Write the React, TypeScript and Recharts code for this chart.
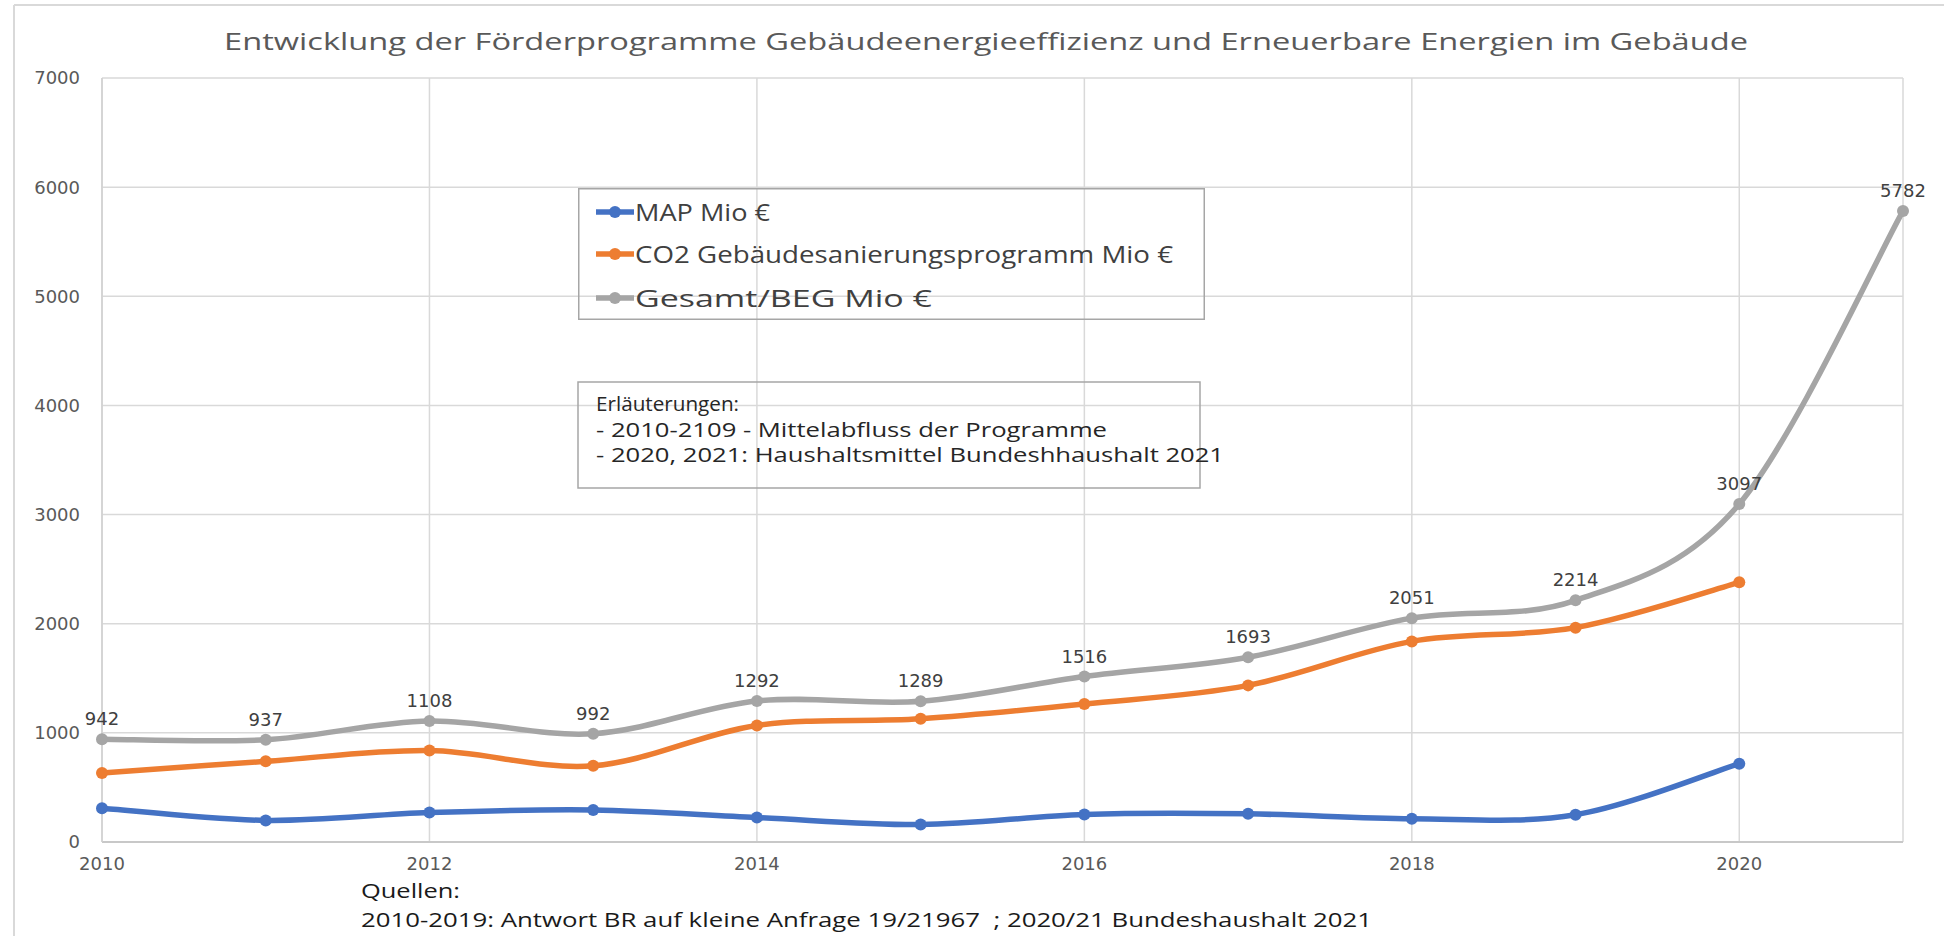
import { LineChart, Line, XAxis, YAxis, CartesianGrid, Legend, LabelList } from "recharts";

/* ------------------------------------------------------------------ */
/*  Data                                                               */
/* ------------------------------------------------------------------ */

const years = [2010, 2011, 2012, 2013, 2014, 2015, 2016, 2017, 2018, 2019, 2020, 2021];
const mapValues = [310, 198, 270, 294, 224, 160, 252, 258, 213, 250, 718, null];
const co2Values = [632, 739, 838, 698, 1068, 1129, 1264, 1435, 1838, 1964, 2379, null];
const totalValues = [942, 937, 1108, 992, 1292, 1289, 1516, 1693, 2051, 2214, 3097, 5782];

const xTicks = [2010, 2012, 2014, 2016, 2018, 2020];
const yTicks = [0, 1000, 2000, 3000, 4000, 5000, 6000, 7000];

const seriesNames = {
  map: "MAP Mio €",
  co2: "CO2 Gebäudesanierungsprogramm Mio €",
  total: "Gesamt/BEG Mio €",
};

const titleText =
  "Entwicklung der Förderprogramme Gebäudeenergieeffizienz und Erneuerbare Energien im Gebäude";
const noteLines = [
  "Erläuterungen:",
  "- 2010-2109 - Mittelabfluss der Programme",
  "- 2020, 2021: Haushaltsmittel Bundeshhaushalt 2021",
];
const sourceLines = [
  "Quellen:",
  "2010-2019: Antwort BR auf kleine Anfrage 19/21967  ; 2020/21 Bundeshaushalt 2021",
];

const COLORS = { map: "#4472C4", co2: "#ED7D31", total: "#A5A5A5" };
const TEXT_FONT = "'Open Sans', sans-serif";
const TICK_FONT = "'DejaVu Sans', sans-serif";

/* ------------------------------------------------------------------ */
/*  Excel-like smoothing (Catmull-Rom as cubic bezier)                 */
/* ------------------------------------------------------------------ */

function excelSmooth(context: any) {
  let pts: [number, number][] = [];
  return {
    areaStart() {},
    areaEnd() {},
    lineStart() {
      pts = [];
    },
    point(x: number, y: number) {
      pts.push([+x, +y]);
    },
    lineEnd() {
      const n = pts.length;
      if (n === 0) return;
      context.moveTo(pts[0][0], pts[0][1]);
      for (let i = 0; i < n - 1; i++) {
        const p0 = pts[i - 1] ?? pts[i];
        const p1 = pts[i];
        const p2 = pts[i + 1];
        const p3 = pts[i + 2] ?? pts[i + 1];
        context.bezierCurveTo(
          p1[0] + (p2[0] - p0[0]) / 6,
          p1[1] + (p2[1] - p0[1]) / 6,
          p2[0] - (p3[0] - p1[0]) / 6,
          p2[1] - (p3[1] - p1[1]) / 6,
          p2[0],
          p2[1]
        );
      }
    },
  };
}

/* ------------------------------------------------------------------ */
/*  Legend box                                                         */
/* ------------------------------------------------------------------ */

const legendItems = [
  { name: seriesNames.map, color: COLORS.map, y: 24, width: 135 },
  { name: seriesNames.co2, color: COLORS.co2, y: 66, width: 538 },
  { name: seriesNames.total, color: COLORS.total, y: 110, width: 297 },
];

function LegendBox() {
  return (
    <svg width={627} height={132} style={{ display: "block" }}>
      <rect x={0.75} y={0.75} width={625.5} height={130.5} fill="none" stroke="#a6a6a6" strokeWidth={1.5} />
      {legendItems.map((item) => (
        <g key={item.name}>
          <line x1={18} x2={56} y1={item.y} y2={item.y} stroke={item.color} strokeWidth={5.5} />
          <circle cx={37} cy={item.y} r={6} fill={item.color} />
          <text
            x={57}
            y={item.y}
            dominantBaseline="central"
            fontFamily={TEXT_FONT}
            fontSize={23}
            fill="#404040"
            textLength={item.width}
            lengthAdjust="spacingAndGlyphs"
          >
            {item.name}
          </text>
        </g>
      ))}
    </svg>
  );
}

/* ------------------------------------------------------------------ */
/*  App                                                                */
/* ------------------------------------------------------------------ */

export default function App() {
  const data = years.map((year, i) => ({
    year,
    map: mapValues[i],
    co2: co2Values[i],
    total: totalValues[i],
  }));

  const noteWidths = [143, 511, 628];
  const noteY = [21, 47, 72];

  return (
    <div style={{ position: "relative", width: 1944, height: 936, background: "#fff", overflow: "hidden" }}>
      <style>{"body{margin:0}"}</style>

      <LineChart width={1944} height={936} data={data} margin={{ top: 78, right: 41, bottom: 64, left: 30 }}>
        <CartesianGrid stroke="#d9d9d9" strokeWidth={1.5} />
        <XAxis
          dataKey="year"
          type="number"
          domain={[2010, 2021]}
          ticks={xTicks}
          height={30}
          axisLine={{ stroke: "#c8c8c8", strokeWidth: 2 }}
          tickLine={false}
          tickSize={0}
          tickMargin={15}
          tick={{ fill: "#595959", fontSize: 18, fontFamily: TICK_FONT }}
        />
        <YAxis
          type="number"
          domain={[0, 7000]}
          ticks={yTicks}
          width={72}
          axisLine={{ stroke: "#d0d0d0", strokeWidth: 1.5 }}
          tickLine={false}
          tickSize={0}
          tickMargin={22}
          tick={{ fill: "#595959", fontSize: 18, fontFamily: TICK_FONT }}
        />
        <Legend
          layout="vertical"
          align="center"
          verticalAlign="middle"
          content={() => <LegendBox />}
          wrapperStyle={{ left: 578, top: 188, width: 627, height: 132 }}
        />
        <Line
          dataKey="map"
          name={seriesNames.map}
          type={excelSmooth as any}
          stroke={COLORS.map}
          strokeWidth={5.5}
          dot={{ r: 6, fill: COLORS.map, stroke: COLORS.map, strokeWidth: 0 }}
          activeDot={false}
          isAnimationActive={false}
        />
        <Line
          dataKey="co2"
          name={seriesNames.co2}
          type={excelSmooth as any}
          stroke={COLORS.co2}
          strokeWidth={5.5}
          dot={{ r: 6, fill: COLORS.co2, stroke: COLORS.co2, strokeWidth: 0 }}
          activeDot={false}
          isAnimationActive={false}
        />
        <Line
          dataKey="total"
          name={seriesNames.total}
          type={excelSmooth as any}
          stroke={COLORS.total}
          strokeWidth={5.5}
          dot={{ r: 6, fill: COLORS.total, stroke: COLORS.total, strokeWidth: 0 }}
          activeDot={false}
          isAnimationActive={false}
        >
          <LabelList
            dataKey="total"
            position="top"
            offset={14}
            fill="#404040"
            fontSize={18}
            fontFamily={TICK_FONT}
          />
        </Line>
      </LineChart>

      {/* ---- Frame, title, notes, sources ---- */}
      <svg
        width={1944}
        height={936}
        style={{ position: "absolute", left: 0, top: 0, pointerEvents: "none" }}
      >
        <line x1={14} x2={1944} y1={5} y2={5} stroke="#d9d9d9" strokeWidth={2} />
        <line x1={14} x2={14} y1={5} y2={936} stroke="#d9d9d9" strokeWidth={2} />

        <text
          x={224}
          y={40}
          dominantBaseline="central"
          fontFamily={TEXT_FONT}
          fontSize={24}
          fill="#595959"
          textLength={1524}
          lengthAdjust="spacingAndGlyphs"
        >
          {titleText}
        </text>

        <rect x={578} y={382} width={622} height={106} fill="none" stroke="#a6a6a6" strokeWidth={1.5} />
        {noteLines.map((line, i) => (
          <text
            key={line}
            x={596}
            y={382 + noteY[i]}
            dominantBaseline="central"
            fontFamily={TEXT_FONT}
            fontSize={19.5}
            fill="#262626"
            textLength={noteWidths[i]}
            lengthAdjust="spacingAndGlyphs"
          >
            {line}
          </text>
        ))}

        {sourceLines.map((line, i) => (
          <text
            key={line}
            x={361}
            y={890 + i * 29}
            dominantBaseline="central"
            fontFamily={TEXT_FONT}
            fontSize={19.5}
            fill="#1a1a1a"
            textLength={i === 0 ? 99 : 1011}
            lengthAdjust="spacingAndGlyphs"
            style={{ whiteSpace: "pre" }}
          >
            {line}
          </text>
        ))}
      </svg>
    </div>
  );
}
